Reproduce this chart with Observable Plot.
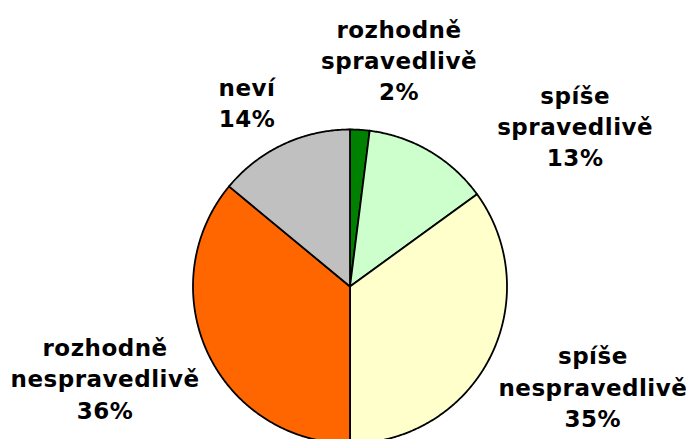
<!DOCTYPE html>
<html>
<head>
<meta charset="utf-8">
<script src="https://cdn.jsdelivr.net/npm/d3@7"></script>
<script src="https://cdn.jsdelivr.net/npm/@observablehq/plot@0.6"></script>
<style>
  html, body { margin: 0; padding: 0; background: #fff; }
  #chart svg { display: block; }
  #chart text { letter-spacing: 0.5px; }
</style>
</head>
<body>
<div id="chart"></div>
<script>
// ---- data ----
const categories = ["rozhodně spravedlivě", "spíše spravedlivě", "spíše nespravedlivě", "rozhodně nespravedlivě", "neví"];
const labelLines = ["rozhodně\nspravedlivě", "spíše\nspravedlivě", "spíše\nnespravedlivě", "rozhodně\nnespravedlivě", "neví"];
const shares = [2, 13, 35, 36, 14];
const sliceColors = ["#008000", "#CCFFCC", "#FFFFCC", "#FF6600", "#C0C0C0"];

// ---- label layout (polar, relative to pie: angle in degrees from top clockwise, distance in radii) ----
const labelAngle = [12.3, 54.8, 112.8, 249, 330.5];
const labelDist = [1.466, 1.755, 1.678, 1.671, 1.332];

// ---- geometry from data ----
const arcs = d3.pie().sort(null).value(d => d)(shares);
const slicePts = [];
arcs.forEach((a, i) => {
  const n = Math.max(2, Math.ceil((a.endAngle - a.startAngle) / (Math.PI / 360)));
  slicePts.push({k: i, x: 0, y: 0, c: sliceColors[i]});
  for (let j = 0; j <= n; j++) {
    const t = a.startAngle + (a.endAngle - a.startAngle) * j / n;
    slicePts.push({k: i, x: Math.sin(t), y: Math.cos(t), c: sliceColors[i]});
  }
  slicePts.push({k: i, x: 0, y: 0, c: sliceColors[i]});
});

const labels = categories.map((c, i) => {
  const t = labelAngle[i] * Math.PI / 180;
  return {
    text: labelLines[i] + "\n" + shares[i] + "%",
    x: labelDist[i] * Math.sin(t),
    y: labelDist[i] * Math.cos(t)
  };
});

const cx = 349.5, cy = 286, r = 157;

const chart = Plot.plot({
  width: 690,
  height: 439,
  margin: 0,
  x: {domain: [-1, 1], range: [cx - r, cx + r], axis: null},
  y: {domain: [-1, 1], range: [cy + r, cy - r], axis: null},
  color: {type: "identity"},
  style: {background: "#fff"},
  marks: [
    Plot.line(slicePts, {
      x: "x", y: "y", z: "k",
      fill: "c",
      stroke: "#000",
      strokeWidth: 1.8,
      strokeLinejoin: "round"
    }),
    Plot.text(labels, {
      x: "x", y: "y", text: "text",
      fontSize: 23,
      fontWeight: "bold",
      fontFamily: "DejaVu Sans, Verdana, sans-serif",
      lineHeight: 1.35,
      textAnchor: "middle",
      lineAnchor: "middle",
      dy: -3,
      fill: "#000"
    })
  ]
});
document.getElementById("chart").appendChild(chart);
</script>
</body>
</html>
